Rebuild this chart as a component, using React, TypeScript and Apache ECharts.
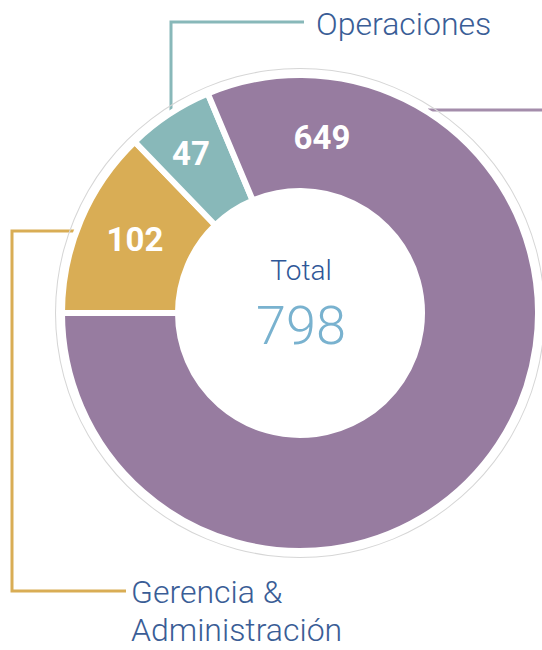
import React, { useEffect, useRef } from "react";
import * as echarts from "echarts";

const categories = ["Gerencia & Administración", "Operaciones", "Otros"];
const values = [102, 47, 649];
const colors = ["#d9ad55", "#88b8b9", "#977ca0"];
const centerTitle = "Total";

export default function App() {
  const ref = useRef<HTMLDivElement>(null);
  useEffect(() => {
    document.body.style.margin = "0";
    const chart = echarts.init(ref.current!, null, { renderer: "svg" });
    const total = values.reduce((a, b) => a + b, 0);
    const cx = 300;
    const cy = 313;
    const blue = "#3a5d96";
    chart.setOption({
      animation: false,
      backgroundColor: "#ffffff",
      series: [
        {
          type: "pie",
          silent: true,
          center: [cx, cy],
          radius: [244, 245],
          label: { show: false },
          labelLine: { show: false },
          itemStyle: { color: "#d6d6d6" },
          data: [{ value: 1, name: "ring" }],
        },
        {
          type: "pie",
          center: [cx, cy],
          radius: [122, 238],
          startAngle: 180,
          clockwise: true,
          avoidLabelOverlap: false,
          itemStyle: { borderColor: "#ffffff", borderWidth: 6 },
          label: {
            show: true,
            position: "inside",
            formatter: "{c}",
            color: "#ffffff",
            fontFamily: "Roboto",
            fontWeight: "bold",
            fontSize: 33,
          },
          labelLine: { show: false },
          labelLayout: (params: any) => {
            if (params.dataIndex === 2) return { x: 322, y: 137 };
            if (params.dataIndex === 1) return { x: 191, y: 153 };
            if (params.dataIndex === 0) return { x: 135, y: 239 };
            return {};
          },
          data: categories.map((c, i) => ({
            name: c,
            value: values[i],
            itemStyle: { color: colors[i] },
          })),
        },
      ],
      graphic: [
        {
          type: "polyline",
          shape: { points: [[171, 112], [171, 22], [304, 22]] },
          style: { stroke: colors[1], lineWidth: 3, fill: null },
        },
        {
          type: "text",
          x: 316,
          y: 24,
          style: {
            text: categories[1],
            fill: blue,
            font: "300 32px Roboto",
            textVerticalAlign: "middle",
          },
        },
        {
          type: "line",
          shape: { x1: 428, y1: 110, x2: 542, y2: 110 },
          style: { stroke: "#a48dab", lineWidth: 3 },
        },
        {
          type: "polyline",
          shape: { points: [[77, 231], [12, 231], [12, 591], [126, 591]] },
          style: { stroke: colors[0], lineWidth: 3, fill: null },
        },
        {
          type: "text",
          x: 131,
          y: 592,
          style: {
            text: "Gerencia &",
            fill: blue,
            font: "300 32px Roboto",
            textVerticalAlign: "middle",
          },
        },
        {
          type: "text",
          x: 131,
          y: 630,
          style: {
            text: "Administración",
            fill: blue,
            font: "300 32px Roboto",
            textVerticalAlign: "middle",
          },
        },
        {
          type: "text",
          x: cx + 1,
          y: 270,
          style: {
            text: centerTitle,
            fill: "#2f5797",
            font: "300 28px Roboto",
            textAlign: "center",
            textVerticalAlign: "middle",
          },
        },
        {
          type: "text",
          x: cx + 1,
          y: 325,
          style: {
            text: String(total),
            fill: "#79b2cf",
            font: "300 54px Roboto",
            textAlign: "center",
            textVerticalAlign: "middle",
          },
        },
      ],
    });
    return () => chart.dispose();
  }, []);
  return <div ref={ref} style={{ width: 542, height: 650 }} />;
}
